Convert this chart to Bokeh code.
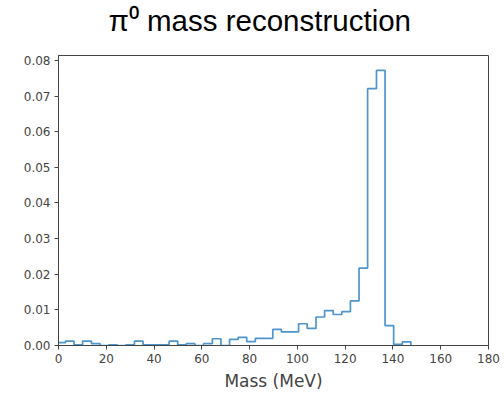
from bokeh.plotting import figure
from bokeh.models import FixedTicker, PrintfTickFormatter, Range1d, Title
from bokeh.embed import file_html
from bokeh.resources import INLINE

# Histogram (density) of reconstructed pi0 mass
bin_edges = [-0.7, 2.9, 6.5, 10.1, 13.8, 17.4, 21.0, 24.6, 28.2, 31.8, 35.4,
             39.0, 42.7, 46.3, 49.9, 53.5, 57.1, 60.7, 64.4, 68.0, 71.6,
             75.2, 78.8, 82.4, 86.1, 89.7, 93.3, 96.9, 100.5, 104.1, 107.8,
             111.4, 115.0, 118.6, 122.2, 125.8, 129.4, 133.1, 136.7, 140.3,
             143.9, 147.5]
density = [0.0008, 0.0012, 0.0002, 0.0012, 0.0005, 0.0, 0.0002, 0.0, 0.0002,
           0.0012, 0.0002, 0.0002, 0.0002, 0.0012, 0.0002, 0.0005, 0.0,
           0.0005, 0.0019, 0.0, 0.0017, 0.0023, 0.0011, 0.0020, 0.0020,
           0.0045, 0.0038, 0.0038, 0.0061, 0.0048, 0.0080, 0.0098, 0.0087,
           0.0095, 0.0125, 0.0217, 0.0721, 0.0772, 0.0056, 0.0003, 0.0010]
x_ticks = [0, 20, 40, 60, 80, 100, 120, 140, 160, 180]
y_ticks = [0.00, 0.01, 0.02, 0.03, 0.04, 0.05, 0.06, 0.07, 0.08]
title_text = "π⁰ mass reconstruction"
x_label = "Mass (MeV)"

# step outline (like histtype='step')
xs = [bin_edges[0]]
ys = [0.0]
for i, h in enumerate(density):
    xs += [bin_edges[i], bin_edges[i + 1]]
    ys += [h, h]
xs.append(bin_edges[-1])
ys.append(0.0)

p = figure(width=504, height=393, output_backend="svg", toolbar_location=None,
           x_range=Range1d(0, 180), y_range=Range1d(0, 0.0814),
           min_border_left=58, min_border_right=16, min_border_top=55,
           min_border_bottom=47)

p.line(xs, ys, line_color="#4f95cc", line_width=1.7)

# spacer nearest the frame, then the real title above it
p.add_layout(Title(text=" ", text_font_size="2px", standoff=10), "above")
p.add_layout(Title(text=title_text, text_font="Liberation Sans",
                   text_font_size="29.5px", text_font_style="normal",
                   text_color="#000000", align="left", offset=50,
                   vertical_align="top", standoff=6), "above")

p.xgrid.visible = False
p.ygrid.visible = False
p.outline_line_color = "#444444"
p.outline_line_width = 1
p.background_fill_color = "white"
p.border_fill_color = "white"

for ax in (p.xaxis[0], p.yaxis[0]):
    ax.axis_line_color = "#444444"
    ax.major_tick_line_color = "#444444"
    ax.minor_tick_line_color = None
    ax.major_tick_in = 0
    ax.major_tick_out = 4
    ax.major_label_text_font = "DejaVu Sans"
    ax.major_label_text_font_size = "12px"
    ax.major_label_text_color = "#444444"
    ax.major_label_standoff = 4

p.xaxis[0].ticker = FixedTicker(ticks=x_ticks)
p.yaxis[0].ticker = FixedTicker(ticks=y_ticks)
p.yaxis[0].formatter = PrintfTickFormatter(format="%.2f")
p.xaxis[0].axis_label = x_label
p.xaxis[0].axis_label_text_font = "DejaVu Sans"
p.xaxis[0].axis_label_text_font_size = "17px"
p.xaxis[0].axis_label_text_font_style = "normal"
p.xaxis[0].axis_label_text_color = "#444444"
p.xaxis[0].axis_label_standoff = 5

open("out.html", "w").write(file_html(p, INLINE))
